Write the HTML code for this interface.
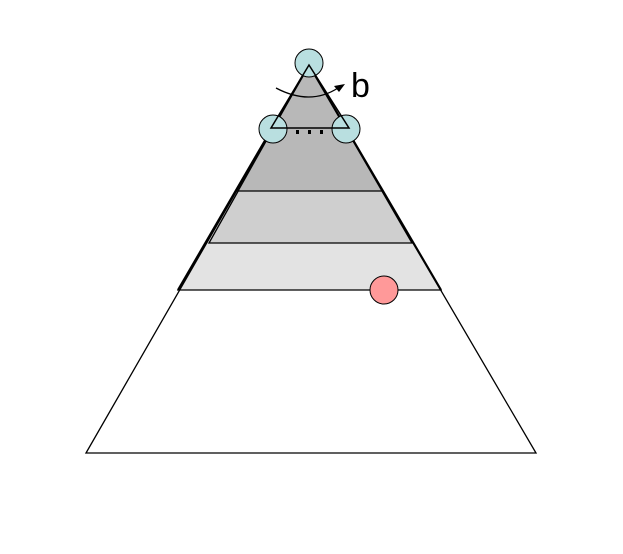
<!DOCTYPE html>
<html><head><meta charset="utf-8"><style>body{margin:0;background:#fff}svg{display:block}</style></head>
<body>
<svg width="623" height="554" viewBox="0 0 623 554">
<polygon points="309,65 178,290 441,290" fill="#e3e3e3" stroke="#000" stroke-width="1.3"/>
<polygon points="309,65 209,243 412,243" fill="#cfcfcf" stroke="#000" stroke-width="1.3"/>
<polygon points="309,65 238,191 382,191" fill="#b8b8b8" stroke="#000" stroke-width="1.3"/>
<polygon points="309,65 86,453 536,453" fill="none" stroke="#000" stroke-width="1.3"/>
<line x1="309" y1="65" x2="178" y2="290" stroke="#000" stroke-width="2.2"/>
<line x1="309" y1="65" x2="441" y2="290" stroke="#000" stroke-width="2.2"/>
<circle cx="309" cy="63" r="14" fill="#b9dfe0" stroke="#000" stroke-width="1"/>
<circle cx="273" cy="129" r="14" fill="#b9dfe0" stroke="#000" stroke-width="1"/>
<circle cx="346" cy="129" r="14" fill="#b9dfe0" stroke="#000" stroke-width="1"/>
<polygon points="309,65 271,128 349,128" fill="none" stroke="#000" stroke-width="1.5"/>
<g fill="#000">
<rect x="296" y="130" width="3" height="4"/>
<rect x="308" y="130" width="3" height="4"/>
<rect x="320" y="130" width="3" height="4"/>
</g>
<path d="M276,88 Q310,106 338,88" fill="none" stroke="#000" stroke-width="1.3"/>
<polygon points="345,84 334,86 339,92" fill="#000"/>
<text x="351" y="97" font-family="Liberation Sans, sans-serif" font-size="34">b</text>
<circle cx="384" cy="290" r="14" fill="#ff9999" stroke="#000" stroke-width="1"/>
</svg>
</body></html>
